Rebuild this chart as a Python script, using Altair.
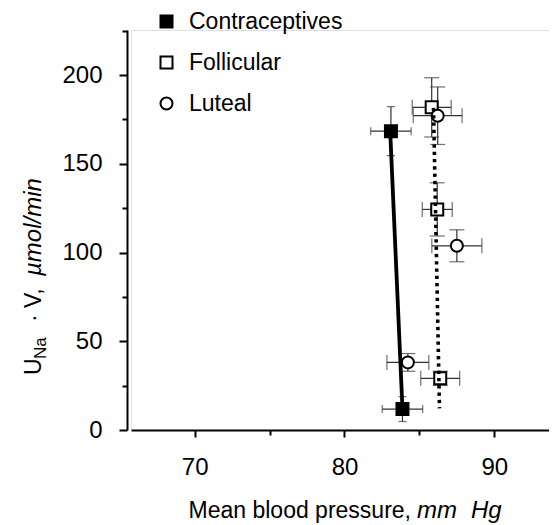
import altair as alt
import pandas as pd

# ---- data ----
groups = ["Contraceptives", "Contraceptives",
          "Follicular", "Follicular", "Follicular",
          "Luteal", "Luteal", "Luteal"]
bp = [83.1, 83.87, 85.82, 86.19, 86.39, 86.22, 87.5, 84.23]
una = [168.4, 11.8, 181.8, 124.3, 29.1, 177.1, 103.8, 38.1]
bp_err = [1.35, 1.35, 1.3, 1.0, 1.3, 1.63, 1.67, 1.4]
una_err = [13.8, 7.0, 16.7, 15.0, 4.0, 16.2, 9.0, 5.0]
cap_len = [8, 8, 15, 15, 15, 15, 15, 15]

line_group = ["Contraceptives", "Contraceptives", "Follicular", "Follicular"]
line_bp = [83.05, 83.87, 85.94, 86.34]
line_una = [168.4, 11.8, 181.5, 12.2]

series = ["Contraceptives", "Follicular", "Luteal"]
x_ticks = [70, 75, 80, 85, 90]
y_ticks = [0, 25, 50, 75, 100, 125, 150, 175, 200, 225]

y_title_parts = ["U", "Na", "\u00b7 V,", "\u00b5mol/min"]
x_title_parts = ["Mean blood pressure,", "mm", "Hg"]

FONT = "Liberation Sans"

df = pd.DataFrame({"group": groups, "bp": bp, "una": una,
                   "bp_err": bp_err, "una_err": una_err, "cap": cap_len})
df["bp_lo"] = df["bp"] - df["bp_err"]
df["bp_hi"] = df["bp"] + df["bp_err"]
df["una_lo"] = df["una"] - df["una_err"]
df["una_hi"] = df["una"] + df["una_err"]

lines_df = pd.DataFrame({"group": line_group, "bp": line_bp, "una": line_una})

xscale = alt.Scale(domain=[65.75, 93.65], nice=False, zero=False)
yscale = alt.Scale(domain=[0, 225.4], nice=False, zero=False)

xaxis = alt.Axis(values=x_ticks, title=None, grid=False,
                 labelExpr="datum.value % 10 === 0 ? datum.label : ''",
                 labelFont=FONT, labelFontSize=24, labelColor="black",
                 labelPadding=18,
                 domainColor="black", domainWidth=2,
                 tickColor="black", tickWidth=2,
                 tickSize=alt.condition("datum.value % 10 === 0", alt.value(7), alt.value(5)))
yaxis = alt.Axis(values=y_ticks, title=None, grid=False, offset=4,
                 labelExpr="datum.value % 50 === 0 ? datum.label : ''",
                 labelFont=FONT, labelFontSize=24, labelColor="black",
                 labelPadding=17,
                 domainColor="black", domainWidth=2,
                 tickColor="black", tickWidth=2,
                 tickSize=alt.condition("datum.value % 50 === 0", alt.value(8), alt.value(5)))

base = alt.Chart(df)

x_err = base.mark_rule(color="#333", strokeWidth=1.2).encode(
    x=alt.X("bp_lo:Q", scale=xscale, axis=xaxis),
    x2="bp_hi:Q",
    y=alt.Y("una:Q", scale=yscale, axis=yaxis),
)
y_err = base.mark_rule(color="#333", strokeWidth=1.2).encode(
    x=alt.X("bp:Q", scale=xscale),
    y=alt.Y("una_lo:Q", scale=yscale),
    y2="una_hi:Q",
)
x_caps_lo = base.mark_tick(orient="vertical", color="#333", thickness=1.2).encode(
    x=alt.X("bp_lo:Q", scale=xscale), y=alt.Y("una:Q", scale=yscale),
    size=alt.Size("cap:Q", scale=None, legend=None))
x_caps_hi = base.mark_tick(orient="vertical", color="#333", thickness=1.2).encode(
    x=alt.X("bp_hi:Q", scale=xscale), y=alt.Y("una:Q", scale=yscale),
    size=alt.Size("cap:Q", scale=None, legend=None))
y_caps_lo = base.mark_tick(orient="horizontal", color="#333", thickness=1.2).encode(
    x=alt.X("bp:Q", scale=xscale), y=alt.Y("una_lo:Q", scale=yscale),
    size=alt.Size("cap:Q", scale=None, legend=None))
y_caps_hi = base.mark_tick(orient="horizontal", color="#333", thickness=1.2).encode(
    x=alt.X("bp:Q", scale=xscale), y=alt.Y("una_hi:Q", scale=yscale),
    size=alt.Size("cap:Q", scale=None, legend=None))

legend = alt.Legend(title=None, orient="none", legendX=24, legendY=-20,
                    labelFont=FONT, labelFontSize=23, labelColor="black",
                    symbolSize=144, symbolStrokeWidth=2,
                    rowPadding=17, labelOffset=11, padding=0)

points = base.mark_point(filled=True, size=144, strokeWidth=2, opacity=1).encode(
    x=alt.X("bp:Q", scale=xscale),
    y=alt.Y("una:Q", scale=yscale),
    shape=alt.Shape("group:N", scale=alt.Scale(domain=series,
                    range=["square", "square", "circle"]), legend=legend),
    fill=alt.Fill("group:N", scale=alt.Scale(domain=series,
                  range=["black", "white", "white"]), legend=legend),
    stroke=alt.Stroke("group:N", scale=alt.Scale(domain=series,
                      range=["black", "black", "black"]), legend=legend),
)

lbase = alt.Chart(lines_df)
solid_line = lbase.transform_filter(alt.datum.group == "Contraceptives").mark_line(
    color="black", strokeWidth=3.8).encode(
    x=alt.X("bp:Q", scale=xscale), y=alt.Y("una:Q", scale=yscale))
dotted_line = lbase.transform_filter(alt.datum.group == "Follicular").mark_line(
    color="black", strokeWidth=3.6, strokeDash=[3.3, 4], strokeCap="butt").encode(
    x=alt.X("bp:Q", scale=xscale), y=alt.Y("una:Q", scale=yscale))

def txt(s, x, y, size=23, style="normal", angle=0, align="left"):
    return alt.Chart(pd.DataFrame({"t": [s]})).mark_text(
        font=FONT, fontSize=size, fontStyle=style, angle=angle, align=align,
        baseline="alphabetic", color="black").encode(
        x=alt.value(x), y=alt.value(y), text="t:N")

titles = [
    txt(x_title_parts[0], 280, 488, align="right"),
    txt(x_title_parts[1], 286, 488, size=24, style="italic"),
    txt(x_title_parts[2], 340, 488, size=24, style="italic"),
    txt(y_title_parts[0], -90, 345, angle=270),
    txt(y_title_parts[1], -85, 329, size=17, angle=270),
    txt(y_title_parts[2], -90, 292, angle=270),
    txt(y_title_parts[3], -90, 246, size=24, style="italic", angle=270),
]

chart = alt.layer(
    x_err, y_err, x_caps_lo, x_caps_hi, y_caps_lo, y_caps_hi,
    points, solid_line, dotted_line, *titles
).properties(
    width=418, height=400,
    autosize=alt.AutoSizeParams(type="none"),
    padding={"left": 123, "top": 22, "right": 0, "bottom": 95},
).configure_view(stroke=None).configure(background="white")

chart.save("out.html", embed_options={"renderer": "svg", "actions": False})
